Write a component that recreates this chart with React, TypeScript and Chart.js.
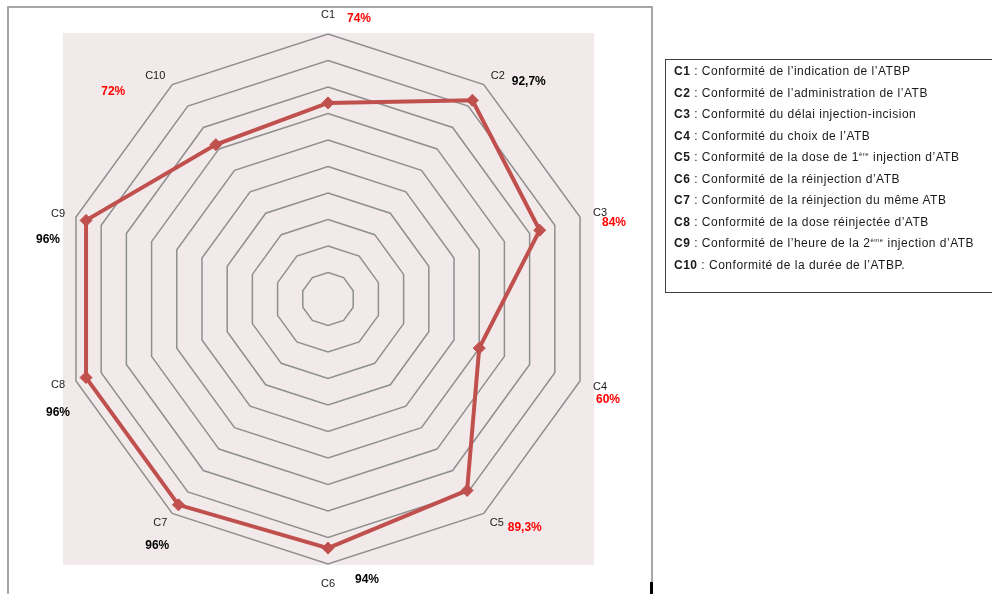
import { useEffect, useRef } from "react";
import { Chart, registerables } from "chart.js";

Chart.register(...registerables);

// ---- data ----
const categories = ["C1", "C2", "C3", "C4", "C5", "C6", "C7", "C8", "C9", "C10"];
const values = [74, 92.7, 84, 60, 89.3, 94, 96, 96, 96, 72];
const valueLabels = ["74%", "92,7%", "84%", "60%", "89,3%", "94%", "96%", "96%", "96%", "72%"];
const valueColors = ["#ff0000", "#000000", "#ff0000", "#ff0000", "#ff0000", "#000000", "#000000", "#000000", "#000000", "#ff0000"];
const scaleMin = 0;
const scaleMax = 100;
const scaleStep = 10;

const legendCodes = ["C1", "C2", "C3", "C4", "C5", "C6", "C7", "C8", "C9", "C10"];
const legendBefore = [
  "Conformité de l’indication  de l’ATBP",
  "Conformité de l’administration de l’ATB",
  "Conformité du délai injection-incision",
  "Conformité du choix  de l’ATB",
  "Conformité de la dose de 1",
  "Conformité de la réinjection  d’ATB",
  "Conformité de la réinjection  du même ATB",
  "Conformité de la dose réinjectée d’ATB",
  "Conformité de l’heure de la 2",
  "Conformité de la durée de  l’ATBP.",
];
const legendSup = ["", "", "", "", "ère", "", "", "", "ème", ""];
const legendAfter = ["", "", "", "", " injection  d’ATB", "", "", "", " injection  d’ATB", ""];

// label placement relative to each outer vertex (styling)
const labelOffsets = [[0, -19], [14, -9], [20, -4], [20, 6], [13, 10], [0, 20], [-12, 10], [-18, 4], [-18, -3], [-17, -9]];
const valueOffsets = [[31, -15], [45, -3], [34, 6], [28, 19], [41, 14], [39, 16], [-15, 32], [-18, 32], [-28, 23], [-59, 7]];

const bgPlugin = {
  id: "plotBg",
  beforeDraw(chart: any) {
    const { ctx, chartArea } = chart;
    ctx.save();
    ctx.fillStyle = "#f2eaea";
    ctx.fillRect(chartArea.left, chartArea.top - 1, chartArea.right - chartArea.left + 1, chartArea.bottom - chartArea.top + 2);
    ctx.restore();
  },
};

const labelPlugin = {
  id: "radarLabels",
  afterDraw(chart: any) {
    const scale = chart.scales.r;
    const ctx = chart.ctx;
    ctx.save();
    ctx.textAlign = "center";
    ctx.textBaseline = "middle";
    for (let i = 0; i < categories.length; i++) {
      const p = scale.getPointPosition(i, scale.drawingArea);
      ctx.font = "11px 'Liberation Sans', Arial, sans-serif";
      ctx.fillStyle = "#1a1a1a";
      ctx.fillText(categories[i], p.x + labelOffsets[i][0], p.y + labelOffsets[i][1]);
      ctx.font = "bold 12px 'Liberation Sans', Arial, sans-serif";
      ctx.fillStyle = valueColors[i];
      ctx.fillText(valueLabels[i], p.x + valueOffsets[i][0], p.y + valueOffsets[i][1]);
    }
    ctx.restore();
  },
};

export default function App() {
  const ref = useRef<HTMLCanvasElement | null>(null);

  useEffect(() => {
    if (!ref.current) return;
    const chart = new Chart(ref.current, {
      type: "radar",
      data: {
        labels: categories,
        datasets: [
          {
            data: values,
            borderColor: "#c0504d",
            backgroundColor: "#c0504d",
            borderWidth: 4,
            fill: false,
            pointStyle: "rectRot",
            pointRadius: 6,
            pointBackgroundColor: "#c0504d",
            pointBorderColor: "#c0504d",
            pointBorderWidth: 1,
          },
        ],
      },
      options: {
        animation: false,
        responsive: false,
        maintainAspectRatio: false,
        layout: { padding: { left: 63, top: 34, right: 399, bottom: 30 } },
        plugins: { legend: { display: false }, tooltip: { enabled: false } },
        elements: { line: { tension: 0 } },
        scales: {
          r: {
            min: scaleMin,
            max: scaleMax,
            ticks: { display: false, stepSize: scaleStep },
            angleLines: { display: false },
            grid: { color: "#8f8f8f", lineWidth: 1.5 },
            pointLabels: { display: false },
          },
        },
      },
      plugins: [bgPlugin, labelPlugin],
    });
    return () => chart.destroy();
  }, []);

  return (
    <div style={{ position: "fixed", left: 0, top: 0, width: 992, height: 594, background: "#fff", overflow: "hidden" }}>
      <canvas ref={ref} width={992} height={594} style={{ position: "absolute", left: 0, top: 0, width: 992, height: 594 }} />
      <div style={{ position: "absolute", left: 7, top: 6, width: 642, height: 600, border: "2px solid #a6a6a6", pointerEvents: "none" }} />
      <div style={{ position: "absolute", left: 650, top: 582, width: 3, height: 14, background: "#000" }} />
      <div
        style={{
          position: "absolute",
          left: 665,
          top: 59,
          width: 340,
          height: 234,
          border: "1.5px solid #404040",
          fontFamily: "'Liberation Sans', Arial, sans-serif",
          fontSize: 12,
          letterSpacing: "0.5px",
          color: "#1a1a1a",
          boxSizing: "border-box",
        }}
      >
        {legendCodes.map((c, i) => (
          <div key={c} style={{ position: "absolute", left: 8, top: 4 + i * 21.5, whiteSpace: "nowrap", lineHeight: "15px" }}>
            <b>{c}</b> : {legendBefore[i]}
            {legendSup[i] ? <sup style={{ fontSize: 6, verticalAlign: "top", lineHeight: "8px" }}>{legendSup[i]}</sup> : null}
            {legendAfter[i]}
          </div>
        ))}
      </div>
    </div>
  );
}
